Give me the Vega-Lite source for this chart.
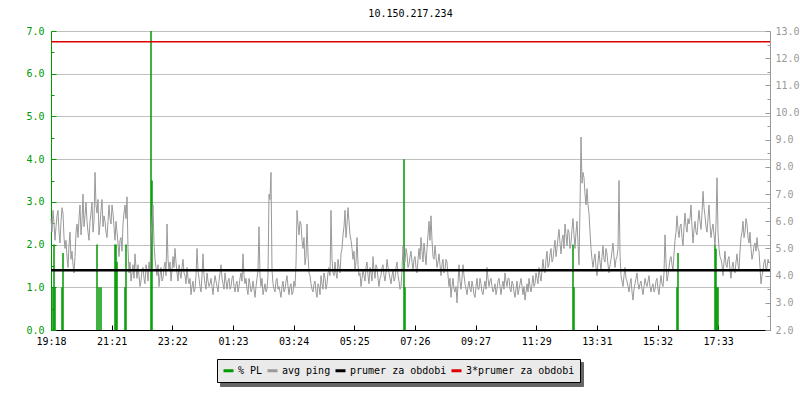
{
  "$schema": "https://vega.github.io/schema/vega-lite/v6.json",
  "width": 719,
  "height": 299,
  "autosize": {"type": "none"},
  "padding": {"left": 51, "top": 31, "right": 30, "bottom": 70},
  "background": "white",
  "config": {
    "font": "DejaVu Sans Mono",
    "view": {"stroke": null},
    "axis": {"labelFont": "DejaVu Sans Mono", "labelFontSize": 10, "title": null, "labelOverlap": false, "labelFlush": false}
  },
  "title": {"text": "10.150.217.234", "font": "DejaVu Sans Mono", "fontSize": 10, "fontWeight": "normal", "anchor": "middle", "offset": 7, "dy": 0, "color": "black"},
  "datasets": {
    "pl": [
      {"t": 4, "p": 1.0}, {"t": 6, "p": 2.0}, {"t": 8, "p": 1.0}, {"t": 22, "p": 1.0}, {"t": 24, "p": 1.8},
      {"t": 92, "p": 2.0}, {"t": 96, "p": 1.0}, {"t": 100, "p": 1.0}, {"t": 128, "p": 2.0}, {"t": 130, "p": 2.0},
      {"t": 132, "p": 1.6}, {"t": 148, "p": 1.0}, {"t": 150, "p": 2.0}, {"t": 200, "p": 7.0}, {"t": 202, "p": 3.5},
      {"t": 706, "p": 4.0}, {"t": 708, "p": 1.0}, {"t": 1044, "p": 2.0}, {"t": 1046, "p": 1.0}, {"t": 1252, "p": 1.0},
      {"t": 1254, "p": 1.8}, {"t": 1328, "p": 2.0}, {"t": 1330, "p": 1.9}, {"t": 1332, "p": 1.0}, {"t": 1334, "p": 1.0}
    ],
    "prumer": [{"v": 4.2}],
    "triple": [{"v": 12.6}],
    "ping": [
      {"t":0,"v":6.1},{"t":2,"v":5.6},{"t":4,"v":6.4},{"t":6,"v":5.9},{"t":8,"v":5.3},{"t":10,"v":5.8},{"t":12,"v":6.2},{"t":14,"v":6.4},{"t":16,"v":5.6},{"t":18,"v":5.2},
      {"t":20,"v":6.0},{"t":22,"v":6.5},{"t":24,"v":6.3},{"t":26,"v":5.4},{"t":28,"v":5.0},{"t":30,"v":5.3},{"t":32,"v":4.7},{"t":34,"v":4.3},{"t":36,"v":5.1},{"t":38,"v":5.6},
      {"t":40,"v":4.6},{"t":42,"v":4.9},{"t":44,"v":4.4},{"t":46,"v":4.1},{"t":48,"v":4.7},{"t":50,"v":5.6},{"t":52,"v":5.9},{"t":54,"v":5.4},{"t":56,"v":6.1},{"t":58,"v":6.6},
      {"t":60,"v":5.5},{"t":62,"v":6.0},{"t":64,"v":7.0},{"t":66,"v":5.8},{"t":68,"v":6.2},{"t":70,"v":6.7},{"t":72,"v":6.0},{"t":74,"v":5.6},{"t":76,"v":5.3},{"t":78,"v":6.0},
      {"t":80,"v":6.3},{"t":82,"v":6.7},{"t":84,"v":5.6},{"t":86,"v":6.0},{"t":88,"v":7.8},{"t":90,"v":6.6},{"t":92,"v":6.3},{"t":94,"v":6.8},{"t":96,"v":5.5},{"t":98,"v":5.9},
      {"t":100,"v":6.4},{"t":102,"v":6.8},{"t":104,"v":5.8},{"t":106,"v":6.2},{"t":108,"v":6.0},{"t":110,"v":5.6},{"t":112,"v":5.4},{"t":114,"v":6.0},{"t":116,"v":6.6},{"t":118,"v":6.1},
      {"t":120,"v":5.9},{"t":122,"v":6.6},{"t":124,"v":6.3},{"t":126,"v":5.8},{"t":128,"v":5.3},{"t":130,"v":6.0},{"t":132,"v":5.6},{"t":134,"v":5.2},{"t":136,"v":4.7},{"t":138,"v":5.3},
      {"t":140,"v":5.4},{"t":142,"v":4.9},{"t":144,"v":5.9},{"t":146,"v":6.3},{"t":148,"v":6.6},{"t":150,"v":6.1},{"t":152,"v":6.9},{"t":154,"v":5.0},{"t":156,"v":4.1},{"t":158,"v":4.5},
      {"t":160,"v":3.8},{"t":162,"v":4.1},{"t":164,"v":4.4},{"t":166,"v":3.9},{"t":168,"v":4.8},{"t":170,"v":4.3},{"t":172,"v":3.9},{"t":174,"v":4.4},{"t":176,"v":4.0},{"t":178,"v":3.6},
      {"t":180,"v":3.8},{"t":182,"v":4.2},{"t":184,"v":4.3},{"t":186,"v":3.9},{"t":188,"v":3.7},{"t":190,"v":4.4},{"t":192,"v":4.2},{"t":194,"v":3.8},{"t":196,"v":4.5},{"t":198,"v":4.2},
      {"t":200,"v":5.4},{"t":202,"v":6.0},{"t":204,"v":6.6},{"t":206,"v":5.2},{"t":208,"v":4.6},{"t":210,"v":4.3},{"t":212,"v":4.0},{"t":214,"v":4.4},{"t":216,"v":3.6},{"t":218,"v":4.0},
      {"t":220,"v":4.3},{"t":222,"v":3.8},{"t":224,"v":3.9},{"t":226,"v":4.3},{"t":228,"v":4.5},{"t":230,"v":4.0},{"t":232,"v":5.9},{"t":234,"v":4.6},{"t":236,"v":4.2},{"t":238,"v":4.5},
      {"t":240,"v":3.8},{"t":242,"v":4.2},{"t":244,"v":4.7},{"t":246,"v":4.3},{"t":248,"v":5.0},{"t":250,"v":4.5},{"t":252,"v":4.1},{"t":254,"v":3.8},{"t":256,"v":4.4},{"t":258,"v":4.1},
      {"t":260,"v":3.9},{"t":262,"v":4.3},{"t":264,"v":4.6},{"t":266,"v":4.1},{"t":268,"v":4.0},{"t":270,"v":3.7},{"t":272,"v":4.3},{"t":274,"v":3.9},{"t":276,"v":3.7},{"t":278,"v":3.9},
      {"t":280,"v":3.3},{"t":282,"v":3.6},{"t":284,"v":3.8},{"t":286,"v":3.4},{"t":288,"v":3.5},{"t":290,"v":4.0},{"t":292,"v":5.0},{"t":294,"v":4.2},{"t":296,"v":3.9},{"t":298,"v":3.6},
      {"t":300,"v":3.4},{"t":302,"v":4.0},{"t":304,"v":4.8},{"t":306,"v":4.0},{"t":308,"v":3.7},{"t":310,"v":3.5},{"t":312,"v":4.1},{"t":314,"v":3.8},{"t":316,"v":3.6},{"t":318,"v":3.7},
      {"t":320,"v":3.9},{"t":322,"v":3.6},{"t":324,"v":3.3},{"t":326,"v":3.7},{"t":328,"v":4.0},{"t":330,"v":3.8},{"t":332,"v":3.6},{"t":334,"v":3.4},{"t":336,"v":3.8},{"t":338,"v":4.1},
      {"t":340,"v":4.4},{"t":342,"v":3.9},{"t":344,"v":3.7},{"t":346,"v":3.5},{"t":348,"v":4.1},{"t":350,"v":3.8},{"t":352,"v":3.5},{"t":354,"v":3.8},{"t":356,"v":3.9},{"t":358,"v":3.5},
      {"t":360,"v":3.6},{"t":362,"v":3.9},{"t":364,"v":4.0},{"t":366,"v":3.6},{"t":368,"v":3.4},{"t":370,"v":3.7},{"t":372,"v":3.8},{"t":374,"v":3.4},{"t":376,"v":3.6},{"t":378,"v":3.9},
      {"t":380,"v":4.1},{"t":382,"v":3.8},{"t":384,"v":4.8},{"t":386,"v":4.0},{"t":388,"v":3.7},{"t":390,"v":3.9},{"t":392,"v":3.5},{"t":394,"v":3.3},{"t":396,"v":3.9},{"t":398,"v":3.7},
      {"t":400,"v":3.4},{"t":402,"v":3.5},{"t":404,"v":3.8},{"t":406,"v":3.5},{"t":408,"v":3.2},{"t":410,"v":3.6},{"t":412,"v":3.9},{"t":414,"v":4.2},{"t":416,"v":5.8},{"t":418,"v":4.0},
      {"t":420,"v":3.6},{"t":422,"v":3.9},{"t":424,"v":3.3},{"t":426,"v":3.5},{"t":428,"v":3.7},{"t":430,"v":3.4},{"t":432,"v":3.5},{"t":434,"v":4.0},{"t":436,"v":7.0},{"t":438,"v":6.8},
      {"t":440,"v":7.8},{"t":442,"v":4.2},{"t":444,"v":3.7},{"t":446,"v":3.5},{"t":448,"v":3.4},{"t":450,"v":3.8},{"t":452,"v":3.9},{"t":454,"v":3.5},{"t":456,"v":3.6},{"t":458,"v":3.4},
      {"t":460,"v":3.2},{"t":462,"v":3.6},{"t":464,"v":3.8},{"t":466,"v":3.4},{"t":468,"v":3.5},{"t":470,"v":3.8},{"t":472,"v":4.0},{"t":474,"v":3.6},{"t":476,"v":3.3},{"t":478,"v":3.6},
      {"t":480,"v":3.7},{"t":482,"v":3.3},{"t":484,"v":3.4},{"t":486,"v":3.8},{"t":488,"v":3.6},{"t":490,"v":4.4},{"t":492,"v":6.4},{"t":494,"v":5.9},{"t":496,"v":5.5},{"t":498,"v":6.0},
      {"t":500,"v":5.9},{"t":502,"v":5.3},{"t":504,"v":5.0},{"t":506,"v":5.4},{"t":508,"v":4.4},{"t":510,"v":4.7},{"t":512,"v":5.9},{"t":514,"v":4.8},{"t":516,"v":4.1},{"t":518,"v":4.0},
      {"t":520,"v":3.7},{"t":522,"v":3.5},{"t":524,"v":3.4},{"t":526,"v":3.7},{"t":528,"v":3.8},{"t":530,"v":3.4},{"t":532,"v":3.2},{"t":534,"v":3.7},{"t":536,"v":3.6},{"t":538,"v":3.3},
      {"t":540,"v":4.0},{"t":542,"v":3.7},{"t":544,"v":3.5},{"t":546,"v":4.1},{"t":548,"v":3.9},{"t":550,"v":3.5},{"t":552,"v":3.7},{"t":554,"v":4.1},{"t":556,"v":4.3},{"t":558,"v":4.0},
      {"t":560,"v":6.4},{"t":562,"v":4.6},{"t":564,"v":4.1},{"t":566,"v":4.0},{"t":568,"v":4.5},{"t":570,"v":4.1},{"t":572,"v":3.9},{"t":574,"v":4.6},{"t":576,"v":4.3},{"t":578,"v":4.1},
      {"t":580,"v":4.8},{"t":582,"v":5.0},{"t":584,"v":5.5},{"t":586,"v":5.8},{"t":588,"v":6.4},{"t":590,"v":5.4},{"t":592,"v":5.9},{"t":594,"v":6.5},{"t":596,"v":6.0},{"t":598,"v":5.5},
      {"t":600,"v":5.3},{"t":602,"v":5.0},{"t":604,"v":4.6},{"t":606,"v":4.9},{"t":608,"v":4.2},{"t":610,"v":4.5},{"t":612,"v":5.4},{"t":614,"v":4.4},{"t":616,"v":4.0},{"t":618,"v":4.1},
      {"t":620,"v":3.6},{"t":622,"v":3.9},{"t":624,"v":4.2},{"t":626,"v":4.0},{"t":628,"v":3.8},{"t":630,"v":4.3},{"t":632,"v":4.5},{"t":634,"v":4.0},{"t":636,"v":3.7},{"t":638,"v":4.3},
      {"t":640,"v":4.1},{"t":642,"v":3.8},{"t":644,"v":4.7},{"t":646,"v":4.2},{"t":648,"v":3.9},{"t":650,"v":4.4},{"t":652,"v":4.3},{"t":654,"v":3.9},{"t":656,"v":3.6},{"t":658,"v":3.9},
      {"t":660,"v":4.0},{"t":662,"v":4.3},{"t":664,"v":4.4},{"t":666,"v":4.0},{"t":668,"v":3.8},{"t":670,"v":4.1},{"t":672,"v":4.6},{"t":674,"v":4.3},{"t":676,"v":4.1},{"t":678,"v":3.9},
      {"t":680,"v":3.7},{"t":682,"v":4.0},{"t":684,"v":4.2},{"t":686,"v":3.8},{"t":688,"v":3.9},{"t":690,"v":4.3},{"t":692,"v":4.5},{"t":694,"v":4.0},{"t":696,"v":3.8},{"t":698,"v":3.5},
      {"t":700,"v":3.6},{"t":702,"v":4.2},{"t":704,"v":5.1},{"t":706,"v":4.6},{"t":708,"v":4.5},{"t":710,"v":5.0},{"t":712,"v":4.8},{"t":714,"v":4.3},{"t":716,"v":4.4},{"t":718,"v":4.7},
      {"t":720,"v":4.9},{"t":722,"v":4.5},{"t":724,"v":4.2},{"t":726,"v":4.6},{"t":728,"v":4.7},{"t":730,"v":4.3},{"t":732,"v":4.1},{"t":734,"v":4.6},{"t":736,"v":5.0},{"t":738,"v":4.6},
      {"t":740,"v":5.4},{"t":742,"v":4.9},{"t":744,"v":4.5},{"t":746,"v":5.2},{"t":748,"v":4.8},{"t":750,"v":4.4},{"t":752,"v":5.0},{"t":754,"v":5.5},{"t":756,"v":6.0},{"t":758,"v":5.3},
      {"t":760,"v":6.2},{"t":762,"v":5.3},{"t":764,"v":4.7},{"t":766,"v":4.6},{"t":768,"v":5.1},{"t":770,"v":4.7},{"t":772,"v":4.3},{"t":774,"v":4.5},{"t":776,"v":4.8},{"t":778,"v":4.4},
      {"t":780,"v":4.0},{"t":782,"v":4.4},{"t":784,"v":4.6},{"t":786,"v":4.1},{"t":788,"v":4.2},{"t":790,"v":4.6},{"t":792,"v":4.5},{"t":794,"v":4.0},{"t":796,"v":3.6},{"t":798,"v":3.9},
      {"t":800,"v":3.2},{"t":802,"v":3.6},{"t":804,"v":3.9},{"t":806,"v":3.5},{"t":808,"v":3.4},{"t":810,"v":3.6},{"t":812,"v":3.0},{"t":814,"v":3.7},{"t":816,"v":4.4},{"t":818,"v":3.8},
      {"t":820,"v":3.5},{"t":822,"v":3.9},{"t":824,"v":4.4},{"t":826,"v":4.0},{"t":828,"v":3.7},{"t":830,"v":3.5},{"t":832,"v":3.3},{"t":834,"v":3.6},{"t":836,"v":3.8},{"t":838,"v":3.5},
      {"t":840,"v":3.4},{"t":842,"v":3.8},{"t":844,"v":3.6},{"t":846,"v":3.3},{"t":848,"v":3.2},{"t":850,"v":3.6},{"t":852,"v":3.9},{"t":854,"v":3.5},{"t":856,"v":3.5},{"t":858,"v":3.9},
      {"t":860,"v":3.7},{"t":862,"v":3.4},{"t":864,"v":3.3},{"t":866,"v":3.6},{"t":868,"v":3.8},{"t":870,"v":3.5},{"t":872,"v":4.3},{"t":874,"v":3.9},{"t":876,"v":3.6},{"t":878,"v":3.8},
      {"t":880,"v":3.9},{"t":882,"v":3.6},{"t":884,"v":3.4},{"t":886,"v":3.5},{"t":888,"v":3.7},{"t":890,"v":3.3},{"t":892,"v":3.5},{"t":894,"v":3.8},{"t":896,"v":3.9},{"t":898,"v":3.6},
      {"t":900,"v":3.3},{"t":902,"v":3.6},{"t":904,"v":3.8},{"t":906,"v":3.5},{"t":908,"v":4.1},{"t":910,"v":3.8},{"t":912,"v":3.6},{"t":914,"v":3.9},{"t":916,"v":3.9},{"t":918,"v":3.5},
      {"t":920,"v":3.4},{"t":922,"v":3.8},{"t":924,"v":3.7},{"t":926,"v":3.4},{"t":928,"v":3.2},{"t":930,"v":3.5},{"t":932,"v":3.8},{"t":934,"v":3.3},{"t":936,"v":3.5},{"t":938,"v":3.7},
      {"t":940,"v":3.9},{"t":942,"v":3.6},{"t":944,"v":3.3},{"t":946,"v":3.6},{"t":948,"v":3.1},{"t":950,"v":3.4},{"t":952,"v":3.7},{"t":954,"v":3.4},{"t":956,"v":3.9},{"t":958,"v":3.6},
      {"t":960,"v":3.4},{"t":962,"v":3.7},{"t":964,"v":4.0},{"t":966,"v":3.6},{"t":968,"v":3.7},{"t":970,"v":4.1},{"t":972,"v":3.9},{"t":974,"v":3.7},{"t":976,"v":4.3},{"t":978,"v":4.0},
      {"t":980,"v":3.8},{"t":982,"v":4.2},{"t":984,"v":4.6},{"t":986,"v":4.2},{"t":988,"v":4.1},{"t":990,"v":4.6},{"t":992,"v":4.9},{"t":994,"v":4.3},{"t":996,"v":4.4},{"t":998,"v":4.8},
      {"t":1000,"v":5.0},{"t":1002,"v":4.5},{"t":1004,"v":4.6},{"t":1006,"v":5.0},{"t":1008,"v":5.3},{"t":1010,"v":4.7},{"t":1012,"v":5.0},{"t":1014,"v":5.4},{"t":1016,"v":5.7},{"t":1018,"v":5.2},
      {"t":1020,"v":4.8},{"t":1022,"v":5.3},{"t":1024,"v":5.5},{"t":1026,"v":5.0},{"t":1028,"v":5.9},{"t":1030,"v":5.5},{"t":1032,"v":5.1},{"t":1034,"v":5.7},{"t":1036,"v":5.6},{"t":1038,"v":5.0},
      {"t":1040,"v":5.2},{"t":1042,"v":5.7},{"t":1044,"v":6.1},{"t":1046,"v":5.5},{"t":1048,"v":5.0},{"t":1050,"v":5.6},{"t":1052,"v":6.0},{"t":1054,"v":5.2},{"t":1056,"v":4.4},{"t":1058,"v":6.5},
      {"t":1060,"v":9.1},{"t":1062,"v":7.4},{"t":1064,"v":7.8},{"t":1066,"v":7.6},{"t":1068,"v":7.0},{"t":1070,"v":6.6},{"t":1072,"v":7.2},{"t":1074,"v":6.6},{"t":1076,"v":6.3},{"t":1078,"v":5.6},
      {"t":1080,"v":5.0},{"t":1082,"v":4.6},{"t":1084,"v":4.3},{"t":1086,"v":4.6},{"t":1088,"v":4.8},{"t":1090,"v":4.3},{"t":1092,"v":4.0},{"t":1094,"v":4.5},{"t":1096,"v":4.9},{"t":1098,"v":4.5},
      {"t":1100,"v":4.2},{"t":1102,"v":4.7},{"t":1104,"v":5.1},{"t":1106,"v":4.6},{"t":1108,"v":4.5},{"t":1110,"v":5.0},{"t":1112,"v":4.8},{"t":1114,"v":4.4},{"t":1116,"v":4.1},{"t":1118,"v":4.4},
      {"t":1120,"v":4.6},{"t":1122,"v":4.9},{"t":1124,"v":5.2},{"t":1126,"v":4.7},{"t":1128,"v":4.3},{"t":1130,"v":4.6},{"t":1132,"v":4.7},{"t":1134,"v":5.0},{"t":1136,"v":7.5},{"t":1138,"v":4.8},
      {"t":1140,"v":4.0},{"t":1142,"v":3.8},{"t":1144,"v":3.6},{"t":1146,"v":4.0},{"t":1148,"v":4.3},{"t":1150,"v":3.9},{"t":1152,"v":3.8},{"t":1154,"v":3.6},{"t":1156,"v":3.4},{"t":1158,"v":3.7},
      {"t":1160,"v":3.9},{"t":1162,"v":3.4},{"t":1164,"v":3.1},{"t":1166,"v":3.5},{"t":1168,"v":3.7},{"t":1170,"v":3.9},{"t":1172,"v":4.1},{"t":1174,"v":3.7},{"t":1176,"v":3.5},{"t":1178,"v":3.7},
      {"t":1180,"v":3.8},{"t":1182,"v":3.5},{"t":1184,"v":3.3},{"t":1186,"v":3.6},{"t":1188,"v":3.9},{"t":1190,"v":3.7},{"t":1192,"v":3.6},{"t":1194,"v":3.8},{"t":1196,"v":4.0},{"t":1198,"v":3.6},
      {"t":1200,"v":3.4},{"t":1202,"v":3.6},{"t":1204,"v":3.7},{"t":1206,"v":3.4},{"t":1208,"v":3.5},{"t":1210,"v":3.8},{"t":1212,"v":3.9},{"t":1214,"v":3.5},{"t":1216,"v":3.3},{"t":1218,"v":3.7},
      {"t":1220,"v":4.0},{"t":1222,"v":3.7},{"t":1224,"v":3.6},{"t":1226,"v":4.1},{"t":1228,"v":5.5},{"t":1230,"v":4.5},{"t":1232,"v":3.8},{"t":1234,"v":4.0},{"t":1236,"v":4.3},{"t":1238,"v":4.6},
      {"t":1240,"v":4.7},{"t":1242,"v":4.4},{"t":1244,"v":4.2},{"t":1246,"v":4.8},{"t":1248,"v":5.3},{"t":1250,"v":5.6},{"t":1252,"v":6.2},{"t":1254,"v":5.7},{"t":1256,"v":5.4},{"t":1258,"v":5.8},
      {"t":1260,"v":5.9},{"t":1262,"v":5.4},{"t":1264,"v":5.1},{"t":1266,"v":5.8},{"t":1268,"v":6.3},{"t":1270,"v":5.8},{"t":1272,"v":5.6},{"t":1274,"v":6.1},{"t":1276,"v":5.9},{"t":1278,"v":6.1},
      {"t":1280,"v":6.6},{"t":1282,"v":5.8},{"t":1284,"v":5.2},{"t":1286,"v":5.7},{"t":1288,"v":6.0},{"t":1290,"v":5.6},{"t":1292,"v":5.5},{"t":1294,"v":6.0},{"t":1296,"v":6.4},{"t":1298,"v":6.0},
      {"t":1300,"v":5.7},{"t":1302,"v":6.3},{"t":1304,"v":7.1},{"t":1306,"v":6.5},{"t":1308,"v":6.2},{"t":1310,"v":5.8},{"t":1312,"v":5.6},{"t":1314,"v":6.1},{"t":1316,"v":6.6},{"t":1318,"v":5.9},
      {"t":1320,"v":5.4},{"t":1322,"v":5.7},{"t":1324,"v":5.9},{"t":1326,"v":5.5},{"t":1328,"v":5.1},{"t":1330,"v":5.9},{"t":1332,"v":7.6},{"t":1334,"v":5.6},{"t":1336,"v":5.0},{"t":1338,"v":4.7},
      {"t":1340,"v":4.6},{"t":1342,"v":4.4},{"t":1344,"v":4.0},{"t":1346,"v":4.5},{"t":1348,"v":4.9},{"t":1350,"v":4.4},{"t":1352,"v":4.3},{"t":1354,"v":4.6},{"t":1356,"v":4.7},{"t":1358,"v":4.2},
      {"t":1360,"v":3.9},{"t":1362,"v":4.3},{"t":1364,"v":4.5},{"t":1366,"v":4.2},{"t":1368,"v":4.1},{"t":1370,"v":4.5},{"t":1372,"v":4.8},{"t":1374,"v":4.4},{"t":1376,"v":4.2},{"t":1378,"v":4.9},
      {"t":1380,"v":5.4},{"t":1382,"v":5.6},{"t":1384,"v":6.0},{"t":1386,"v":5.4},{"t":1388,"v":5.6},{"t":1390,"v":6.1},{"t":1392,"v":5.9},{"t":1394,"v":5.4},{"t":1396,"v":5.2},{"t":1398,"v":5.6},
      {"t":1400,"v":5.0},{"t":1402,"v":4.6},{"t":1404,"v":4.8},{"t":1406,"v":5.1},{"t":1408,"v":5.2},{"t":1410,"v":4.9},{"t":1412,"v":5.4},{"t":1414,"v":5.0},{"t":1416,"v":4.9},{"t":1418,"v":4.3},
      {"t":1420,"v":3.7},{"t":1422,"v":4.0},{"t":1424,"v":4.2},{"t":1426,"v":4.5},{"t":1428,"v":4.6},{"t":1430,"v":4.2},{"t":1432,"v":4.3},{"t":1434,"v":4.6},{"t":1436,"v":4.5}
    ]
  },
  "layer": [
    {
      "data": {"name": "pl"},
      "mark": {"type": "rule", "strokeWidth": 1.5},
      "encoding": {
        "x": {
          "field": "t", "type": "quantitative",
          "scale": {"domain": [0, 1438], "nice": false, "zero": false},
          "axis": {
            "values": [0, 121.3, 242.6, 363.9, 485.2, 606.5, 727.8, 849.1, 970.4, 1091.7, 1213, 1334.3],
            "labelExpr": "['19:18','21:21','23:22','01:23','03:24','05:25','07:26','09:27','11:29','13:31','15:32','17:33'][round(datum.value/121.3)]",
            "tickSize": -5, "tickColor": "black", "domainColor": "black", "labelColor": "black",
            "labelPadding": 11, "grid": false, "labelOverlap": false, "labelFlush": false
          }
        },
        "y": {
          "field": "p", "type": "quantitative",
          "scale": {"domain": [0, 7], "nice": false, "zero": true, "clamp": true},
          "axis": {
            "orient": "left",
            "values": [0, 0.5, 1, 1.5, 2, 2.5, 3, 3.5, 4, 4.5, 5, 5.5, 6, 6.5, 7],
            "labelExpr": "datum.value % 1 ? '' : format(datum.value, '.1f')",
            "labelOverlap": false,
            "labelColor": "#009900", "domainColor": "#009900", "tickColor": "#009900",
            "tickSize": {"condition": {"test": "datum.value % 1 !== 0", "value": -3}, "value": -5},
            "labelPadding": 12,
            "grid": true, "gridColor": "#c0c0c0",
            "gridOpacity": {"condition": {"test": "datum.value % 1 !== 0", "value": 0}, "value": 1}
          }
        },
        "y2": {"datum": 0},
        "color": {
          "datum": "% PL", "type": "nominal",
          "scale": {"domain": ["% PL", "avg ping", "prumer za obdobi", "3*prumer za obdobi"], "range": ["#009900", "#999999", "#000000", "#dd0000"]},
          "legend": {
            "orient": "none", "legendX": 166, "legendY": 328, "direction": "horizontal", "title": null,
            "symbolType": "stroke", "symbolSize": 100, "symbolStrokeWidth": 3,
            "labelFont": "DejaVu Sans Mono", "labelFontSize": 10, "labelColor": "black",
            "fillColor": "#eaeaea", "strokeColor": "black", "padding": 5, "columnPadding": -2, "labelOffset": 3,
            "zindex": 2
          }
        },
        "opacity": {
          "datum": "% PL", "type": "nominal",
          "scale": {"domain": ["3*prumer za obdobi", "prumer za obdobi", "avg ping", "% PL"], "range": [1, 1, 1, 1]},
          "legend": {
            "orient": "none", "legendX": 169, "legendY": 331, "direction": "horizontal", "title": null,
            "symbolType": "square", "symbolSize": 196, "symbolStrokeWidth": 0, "symbolStrokeColor": "transparent", "symbolFillColor": "transparent",
            "labelExpr": "''", "labelFontSize": 10, "labelColor": "transparent",
            "fillColor": "#666666", "strokeColor": "#666666", "padding": 5, "columnPadding": 95, "labelOffset": 3,
            "zindex": 1
          }
        }
      }
    },
    {
      "encoding": {
        "y": {
          "field": "v", "type": "quantitative",
          "scale": {"domain": [2, 13], "nice": false, "zero": false},
          "axis": {
            "orient": "right",
            "values": [2, 2.5, 3, 3.5, 4, 4.5, 5, 5.5, 6, 6.5, 7, 7.5, 8, 8.5, 9, 9.5, 10, 10.5, 11, 11.5, 12, 12.5, 13],
            "labelExpr": "datum.value % 1 ? '' : format(datum.value, '.1f')",
            "labelOverlap": false,
            "labelColor": "#999999", "domainColor": "#999999", "tickColor": "#999999",
            "tickSize": {"condition": {"test": "datum.value % 1 !== 0", "value": -3}, "value": -5},
            "labelPadding": 10, "grid": false
          }
        }
      },
      "layer": [
        {
          "data": {"name": "ping"},
          "mark": {"type": "line", "strokeWidth": 1},
          "encoding": {
            "x": {"field": "t", "type": "quantitative"},
            "color": {"datum": "avg ping", "type": "nominal"}
          }
        },
        {
          "data": {"name": "prumer"},
          "mark": {"type": "rule", "strokeWidth": 2.5},
          "encoding": {"color": {"datum": "prumer za obdobi", "type": "nominal"}}
        },
        {
          "data": {"name": "triple"},
          "mark": {"type": "rule", "strokeWidth": 1.5},
          "encoding": {"color": {"datum": "3*prumer za obdobi", "type": "nominal"}}
        }
      ]
    }
  ],
  "resolve": {"scale": {"y": "independent"}}
}
